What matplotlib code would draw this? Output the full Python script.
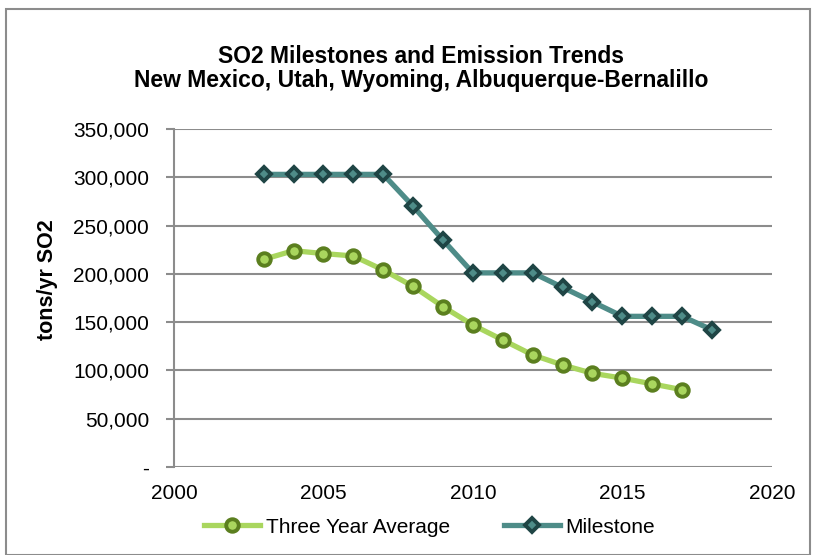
import matplotlib.pyplot as plt
from matplotlib.patches import Rectangle
from matplotlib.ticker import FuncFormatter

plt.rcParams['font.family'] = ['Liberation Sans', 'DejaVu Sans']

years_avg = [2003, 2004, 2005, 2006, 2007, 2008, 2009, 2010, 2011, 2012, 2013, 2014, 2015, 2016, 2017]
three_year_avg = [215000, 224000, 221000, 218500, 204000, 187000, 166000, 147000, 131500, 116000,
                  105600, 97000, 92000, 86000, 80000]

years_ms = [2003, 2004, 2005, 2006, 2007, 2008, 2009, 2010, 2011, 2012, 2013, 2014, 2015, 2016, 2017, 2018]
milestone = [303000, 303000, 303000, 303000, 303000, 270000, 235000, 201000, 201000, 201000,
             186000, 171000, 156000, 156000, 156000, 142000]

fig = plt.figure(figsize=(8.15, 5.55), dpi=100)
ax = fig.add_axes([0.2135, 0.1586, 0.7335, 0.609])

ax.plot(years_avg, three_year_avg, color='#A9D65E', lw=3.8, marker='o', ms=9,
        mfc='#A9D65E', mec='#5B7F1F', mew=2.8, label='Three Year Average', zorder=3)
ax.plot(years_ms, milestone, color='#4E8C88', lw=3.8, marker='D', ms=7.5,
        mfc='#4E8C88', mec='#1F4545', mew=2.8, label='Milestone', zorder=4)

ax.set_xlim(2000, 2020)
ax.set_ylim(0, 350000)
ax.set_xticks([2000, 2005, 2010, 2015, 2020])
ax.set_yticks(range(0, 350001, 50000))
ax.yaxis.set_major_formatter(FuncFormatter(lambda v, p: '-' if v == 0 else f'{int(v):,}'))
ax.grid(axis='y', color='#8C8C8C', lw=1.5)
ax.set_axisbelow(True)
for s in ['top', 'right', 'bottom']:
    ax.spines[s].set_visible(False)
ax.spines['left'].set_color('#8C8C8C')
ax.spines['left'].set_linewidth(1.5)
ax.tick_params(axis='y', length=6, width=1.5, color='#8C8C8C', labelsize=15, pad=12)
ax.tick_params(axis='x', length=0, labelsize=15, pad=12)

fig.text(47 / 815, 0.497, 'tons/yr SO2', rotation=90, ha='center', va='center',
         fontsize=15.5, fontweight='bold')
fig.text(0.517, 0.877, 'SO2 Milestones and Emission Trends\nNew Mexico, Utah, Wyoming, Albuquerque-Bernalillo',
         ha='center', va='center', fontsize=16.5, fontweight='bold', linespacing=1.08)

fig.legend(loc='center', bbox_to_anchor=(0.527, 0.05), ncol=2, frameon=False, fontsize=15,
           handlelength=2.7, columnspacing=2.6, handletextpad=0.25)

fig.patches.append(Rectangle((0.0075, 0.0), 0.986, 0.984, transform=fig.transFigure,
                             fill=False, edgecolor='#8C8C8C', lw=1.5))

fig.savefig('out.png', dpi=100)
